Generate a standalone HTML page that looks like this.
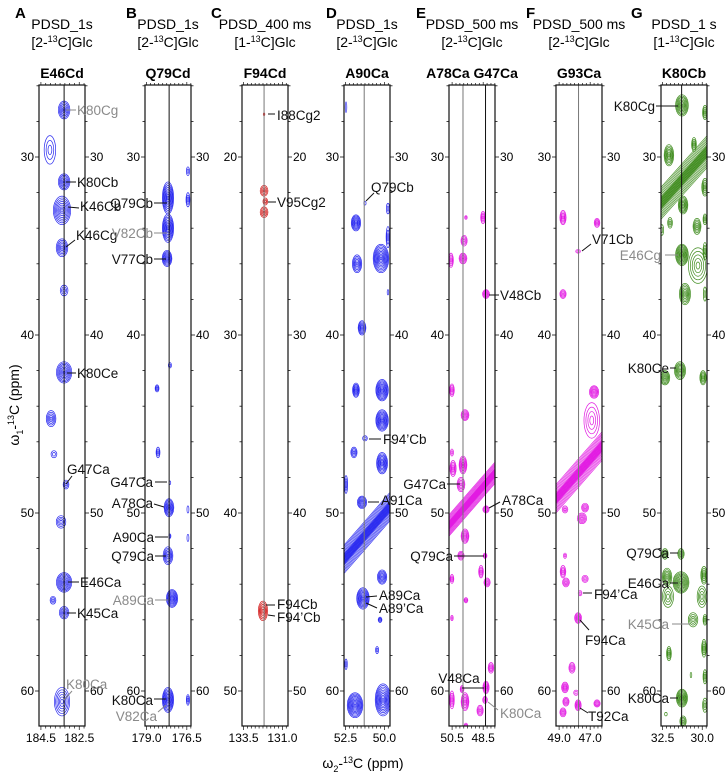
<!DOCTYPE html>
<html><head><meta charset="utf-8"><style>
html,body{margin:0;padding:0;background:#fff;}
svg{display:block;font-family:"Liberation Sans",Arial,sans-serif;}
</style></head><body>
<svg id="fig" width="726" height="778" viewBox="0 0 726 778"></svg>
<script>
// ---------- data ----------
const panelIds = ['A','B','C','D','E','F','G'];
const panelExp = ['PDSD_1s','PDSD_1s','PDSD_400 ms','PDSD_1s','PDSD_500 ms','PDSD_500 ms','PDSD_1 s'];
const panelLabel = ['2','2','1','2','2','2','1'];
const panelStrip = ['E46Cd','Q79Cd','F94Cd','A90Ca','A78Ca G47Ca','G93Ca','K80Cb'];
const xDomainLeft = [184.6,179.1,133.6,52.6,50.7,49.2,32.6];
const xDomainRight = [182.2,176.24,130.64,49.64,47.74,46.24,29.7];
const yRef = [30,30,20,30,30,30,30];
const yTickA = ['30','40','50','60'];
const yTickC = ['20','30','40','50'];
const xTickLabels = [['184.5','182.5'],['179.0','176.5'],['133.5','131.0'],['52.5','50.0'],['50.5','48.5'],['49.0','47.0'],['32.5','30.0']];
const stripLines = [[183.29],[177.6],[132.18],[51.3],[49.8,48.35],[47.75],[31.3]];
const diagonalHalfWidth = [0,0,0,0.8,0.6,0.8,0.9];
// peaks: [w2 ppm, w1 ppm, x-halfwidth ppm, y-halfwidth ppm, contour levels]
const peaksA = [[183.29,27.36,.3,.5,6],[184.03,29.6,.3,.8,3],[183.29,31.4,.3,.45,6],[183.40,33.0,.45,.8,8],[183.40,35.1,.3,.5,6],[183.29,37.5,.2,.3,3],[183.29,42.1,.4,.6,8],[183.97,44.7,.25,.45,5],[183.82,46.7,.15,.2,2],[183.19,48.4,.15,.25,3],[183.45,50.5,.25,.35,4],[183.29,53.9,.4,.55,8],[183.87,54.9,.15,.22,3],[183.29,55.6,.25,.35,5],[183.40,60.6,.4,.8,6]];
const peaksB = [[177.67,32.3,.35,.9,9],[177.67,34.0,.35,.8,9],[177.73,35.7,.3,.45,7],[176.43,30.8,.1,.25,2],[176.43,32.4,.12,.4,3],[177.55,41.7,.1,.15,2],[178.35,43.0,.12,.2,3],[178.29,46.6,.12,.3,3],[177.55,48.3,.05,.1,1],[177.61,49.7,.3,.5,7],[177.55,51.3,.06,.12,2],[177.67,52.4,.3,.5,6],[177.42,54.8,.35,.5,8],[177.67,60.5,.35,.7,9],[176.43,49.8,.06,.2,1],[176.43,51.4,.06,.2,1],[176.43,60.5,.1,.3,3]];
const peaksC = [[132.18,17.6,.05,.08,1],[132.18,21.9,.25,.3,4],[132.1,22.5,.15,.2,3],[132.18,23.1,.25,.3,4],[132.25,45.5,.3,.55,6]];
const peaksD = [[52.47,27.2,.05,.3,1],[51.25,32.6,.07,.1,1],[51.83,33.7,.3,.45,7],[49.77,32.9,.1,.3,2],[49.77,34.5,.12,.6,3],[50.22,35.7,.5,.8,10],[51.76,36.0,.3,.5,6],[49.77,37.6,.05,.15,1],[51.44,39.6,.25,.4,6],[51.83,43.1,.22,.4,6],[50.15,43.1,.4,.6,9],[50.15,44.8,.4,.6,9],[51.25,45.8,.15,.15,2],[51.96,46.6,.2,.3,4],[50.15,47.2,.35,.6,8],[52.47,48.4,.1,.5,3],[51.44,49.4,.3,.35,6],[50.15,53.6,.3,.4,6],[51.38,54.8,.4,.6,9],[50.28,56.0,.12,.15,3],[50.47,57.7,.1,.2,2],[52.47,58.5,.08,.3,2],[51.89,60.8,.5,.7,10],[50.09,60.5,.5,.9,10]];
const peaksE = [[49.61,33.4,.08,.1,2],[48.51,33.4,.15,.35,4],[49.73,34.7,.2,.3,4],[49.80,35.7,.25,.3,5],[50.57,35.8,.15,.4,4],[48.32,37.7,.22,.25,5],[50.51,43.1,.15,.35,4],[49.67,44.5,.25,.3,5],[50.51,46.6,.1,.2,2],[50.44,47.5,.2,.45,5],[49.80,47.3,.25,.5,6],[49.93,48.4,.25,.4,5],[48.32,49.8,.2,.2,4],[49.67,51.3,.25,.4,6],[49.93,52.4,.2,.25,4],[48.38,52.4,.12,.15,3],[48.64,53.3,.15,.35,4],[50.51,53.7,.12,.25,3],[48.25,53.9,.2,.25,4],[49.61,54.9,.12,.15,3],[50.51,55.9,.08,.15,2],[48.0,58.7,.18,.3,4],[48.32,59.8,.2,.35,5],[49.86,59.9,.12,.2,3],[50.51,60.5,.15,.5,4],[49.67,60.6,.25,.5,6],[48.38,60.5,.15,.2,3],[48.70,61.1,.2,.3,4],[49.61,62.0,.12,.2,3]];
const peaksF = [[48.75,33.4,.2,.4,5],[46.56,33.7,.18,.25,4],[47.78,35.3,.15,.1,2],[48.75,37.7,.2,.25,4],[46.75,43.2,.3,.35,6],[46.9,44.8,.5,1.0,4],[48.62,49.8,.18,.2,3],[47.33,49.7,.22,.25,4],[47.53,50.3,.3,.3,5],[48.62,52.4,.1,.15,2],[48.75,53.3,.18,.35,4],[47.33,53.7,.2,.2,3],[48.56,53.9,.22,.25,4],[47.65,54.5,.12,.15,2],[47.78,55.9,.22,.3,5],[48.17,58.7,.2,.3,4],[48.62,59.8,.22,.3,5],[47.91,60.1,.15,.15,2],[48.56,60.6,.2,.25,4],[48.75,61.2,.2,.25,4],[47.78,60.8,.2,.3,5],[46.56,60.7,.2,.2,4]];
const peaksG = [[31.28,27.1,.4,.6,8],[29.83,27.5,.15,.4,4],[30.52,29.3,.15,.4,4],[32.10,29.9,.3,.6,7],[29.83,31.7,.2,.5,5],[31.21,32.7,.3,.5,7],[32.03,33.7,.15,.3,3],[30.33,33.9,.25,.45,5],[29.83,33.5,.12,.3,3],[32.54,34.1,.1,.3,2],[31.28,35.5,.4,.6,9],[30.27,36.1,.6,1.0,5],[29.83,35.3,.12,.5,3],[31.09,37.7,.35,.6,7],[29.83,37.7,.1,.4,2],[31.40,42.0,.35,.5,7],[32.35,42.4,.3,.4,6],[29.95,42.4,.2,.4,5],[31.34,52.3,.2,.3,4],[32.35,52.3,.2,.3,4],[31.34,53.9,.5,.6,9],[32.22,53.6,.3,.5,6],[29.89,53.5,.2,.5,5],[32.16,54.7,.35,.6,4],[30.02,54.7,.3,.6,4],[30.58,56.0,.3,.4,4],[29.83,56.0,.12,.3,3],[29.89,57.6,.15,.5,4],[32.10,57.9,.15,.4,4],[30.71,59.1,.05,.15,1],[29.83,59.2,.12,.4,3],[31.28,60.4,.35,.5,8],[29.83,60.8,.15,.4,3],[32.29,61.3,.08,.1,1],[31.21,61.7,.2,.3,4]];
const allPeaks = [peaksA,peaksB,peaksC,peaksD,peaksE,peaksF,peaksG];
// assignment labels: [text, gray, x, y, anchor, leader x1,y1,x2,y2]
const assignLabels = [
 ['K80Cg',1,77,110,'start',66,110,76,110],['K80Cb',0,77,182,'start',66,182,76,182],['K46Cb',0,80,206,'start',68,207,79,208],
 ['K46Cg',0,76,235,'start',66,247,75,240],['K80Ce',0,77,373,'start',67,373,76,373],['G47Ca',0,67,469,'start',66,484,72,476],
 ['E46Ca',0,80,582,'start',68,582,79,582],['K45Ca',0,77,613,'start',67,613,76,613],['K80Ca',1,66,684,'start',64,700,72,691],
 ['Q79Cb',0,153,203,'end',154,203,167,203],['V82Cb',1,153,233,'end',154,233,167,233],['V77Cb',0,153,259,'end',154,259,166,259],
 ['G47Ca',0,153,482,'end',155,482,167,482],['A78Ca',0,153,503,'end',154,504,164,507],['A90Ca',0,154,537,'end',155,537,168,537],
 ['Q79Ca',0,154,556,'end',155,556,166,556],['A89Ca',1,154,600,'end',155,600,168,600],['K80Ca',0,153,700,'end',154,699,166,699],
 ['V82Ca',1,157,716,'end',158,712,166,705],
 ['I88Cg2',0,277,115,'start',268,114,275,114],['V95Cg2',0,277,202,'start',268,202,276,202],
 ['F94Cb',0,277,604,'start',266,605,275,605],['F94\u2019Cb',0,277,617,'start',268,615,275,616],
 ['Q79Cb',0,371,187,'start',366,201,374,193],['F94\u2019Cb',0,383,439,'start',369,439,381,439],['A91Ca',0,381,500,'start',368,502,379,502],
 ['A89Ca',0,379,595,'start',366,597,377,596],['A89\u2019Ca',0,379,608,'start',366,603,377,608],
 ['V48Cb',0,500,295,'start',489,295,499,295],['A78Ca',0,502,500,'start',489,508,500,502],['G47Ca',0,446,484,'end',447,484,460,484],
 ['Q79Ca',0,453,556,'end',454,556,484,556],['V48Ca',0,459,678,'middle',462,688,484,688],['K80Ca',1,500,713,'start',488,702,498,710],
 ['V71Cb',0,592,239,'start',582,251,591,244],['F94\u2019Ca',0,594,594,'start',583,593,592,593],['F94Ca',0,585,640,'start',580,620,589,630],
 ['T92Ca',0,588,716,'start',580,708,588,713],
 ['K80Cg',0,655,106,'end',656,106,678,106],['E46Cg',1,661,255,'end',665,255,678,255],['K80Ce',0,669,368,'end',670,368,676,368],
 ['Q79Ca',0,669,553,'end',670,553,678,553],['E46Ca',0,669,583,'end',670,583,678,583],['K45Ca',1,669,624,'end',672,624,690,624],
 ['K80Ca',0,669,698,'end',670,698,678,698]
];
// ---------- layout ----------
const NS='http://www.w3.org/2000/svg';
const svg=document.getElementById('fig');
const frameLeft=[39,145,242,344,449,556,661];
const FW=46, TOP=85, BOT=726, PXPPM=17.8, Y0PX=157;
const colors=['#2a2af0','#2a2af0','#d42020','#2a2af0','#e21ae2','#e21ae2','#3f8c1e'];
const headerLetterX=[15,126,211,326,416,526,631];
function el(tag,attrs,parent){const e=document.createElementNS(NS,tag);for(const k in attrs)e.setAttribute(k,attrs[k]);(parent||svg).appendChild(e);return e;}
function xs(i,v){return frameLeft[i]+(xDomainLeft[i]-v)/(xDomainLeft[i]-xDomainRight[i])*FW;}
function ys(i,v){return Y0PX+(v-yRef[i])*PXPPM;}
function txt(s,attrs,parent){const t=el('text',attrs,parent);t.textContent=s;return t;}

const defs=el('defs',{});
panelIds.forEach((id,i)=>{
  const cp=el('clipPath',{id:'clip'+i},defs);
  el('rect',{x:frameLeft[i],y:TOP,width:FW,height:BOT-TOP},cp);
  const g=el('g',{});
  
  
  const cx=frameLeft[i]+FW/2;
  const L=txt(id,{x:headerLetterX[i],y:18,'font-size':15,'font-weight':'bold'},g);
  
  
  const e1=txt(panelExp[i],{x:cx,y:29,'font-size':14,'text-anchor':'middle'},g);
  
  
  const e2=el('text',{x:cx,y:47,'font-size':14,'text-anchor':'middle'},g);
  
  
  const a=document.createElementNS(NS,'tspan');a.textContent='['+panelLabel[i]+'-';e2.appendChild(a);
  const b=document.createElementNS(NS,'tspan');b.setAttribute('font-size','9');b.setAttribute('dy','-5');b.textContent='13';e2.appendChild(b);
  const c=document.createElementNS(NS,'tspan');c.setAttribute('dy','5');c.textContent='C]Glc';e2.appendChild(c);
  const st=txt(panelStrip[i],{x:cx,y:78,'font-size':14,'font-weight':'bold','text-anchor':'middle'},g);
  
  

  const body=el('g',{'clip-path':'url(#clip'+i+')'},g);
  
  
  // diagonal ridge
  const hw=diagonalHalfWidth[i];
  if(hw>0){
    const n=9;
    for(let k=-n;k<=n;k++){
      const d=hw*k/n;
      const ln=el('line',{x1:xs(i,xDomainLeft[i]),y1:ys(i,xDomainLeft[i]+d),x2:xs(i,xDomainRight[i]),y2:ys(i,xDomainRight[i]+d),stroke:colors[i],'stroke-width':Math.abs(k)<4?1.2:0.6},body);
      
      
    }
  }
  // peaks
  allPeaks[i].forEach(p=>{
    const px=xs(i,p[0]), py=ys(i,p[1]);
    const rx=Math.abs(xs(i,p[0]-p[2])-px), ry=p[3]*PXPPM;
    const lv=p[4];
    const pg=el('g',{},body);
    
    
    for(let k=lv;k>=1;k--){
      el('ellipse',{cx:px,cy:py,rx:Math.max(0.6,rx*k/lv),ry:Math.max(0.6,ry*k/lv),fill:'none',stroke:colors[i],'stroke-width':0.7},pg);
    }
  });
  // strip reference lines
  stripLines[i].forEach((v,j)=>{
    const ln=el('line',{x1:xs(i,v),x2:xs(i,v),y1:TOP,y2:BOT,stroke:(i===2||i===3||i===5||(i===4&&j===0))?'#777':'#111','stroke-width':1},g);
    
    
  });
  // frame
  const fr=el('rect',{x:frameLeft[i],y:TOP,width:FW,height:BOT-TOP,fill:'none',stroke:'#111','stroke-width':1.2},g);
  
  
  // y ticks
  const labs=(i===2)?yTickC:yTickA;
  for(let v=yRef[i]-4;v<=yRef[i]+32;v+=2){
    const y=ys(i,v); if(y<TOP||y>BOT) continue;
    const major=labs.indexOf(String(v))>=0;
    const len=major?4:2.5;
    el('line',{x1:frameLeft[i]-len,x2:frameLeft[i],y1:y,y2:y,stroke:'#111','stroke-width':0.8},g);
    el('line',{x1:frameLeft[i]+FW,x2:frameLeft[i]+FW+len,y1:y,y2:y,stroke:'#111','stroke-width':0.8},g);
  }
  labs.forEach(s=>{
    const y=ys(i,+s);
    const t1=txt(s,{x:frameLeft[i]-5,y:y+4,'font-size':12,'text-anchor':'end'},g);
    
    
    const t2=txt(s,{x:frameLeft[i]+FW+5,y:y+4,'font-size':12},g);
    
    
  });
  // x ticks (0.25 ppm)
  const v0=+xTickLabels[i][0], v1=+xTickLabels[i][1];
  for(let v=v0+0.5;v>=xDomainRight[i];v-=0.25){
    const x=xs(i,v); if(x<frameLeft[i]||x>frameLeft[i]+FW) continue;
    const major=Math.abs(v-v0)<1e-6||Math.abs(v-v1)<1e-6;
    el('line',{x1:x,x2:x,y1:BOT,y2:BOT+(major?4:2.5),stroke:'#111','stroke-width':0.7},g);
    el('line',{x1:x,x2:x,y1:TOP,y2:TOP-(major?3:2),stroke:'#111','stroke-width':0.7},g);
  }
  xTickLabels[i].forEach(s=>{
    const t=txt(s,{x:xs(i,+s),y:742,'font-size':12,'text-anchor':'middle'},g);
    
    
  });
});
// assignment labels
assignLabels.forEach(a=>{
  const g=el('g',{});
  
  
  const col=a[1]?'#8a8a8a':'#111';
  el('line',{x1:a[5],y1:a[6],x2:a[7],y2:a[8],stroke:col,'stroke-width':1},g);
  txt(a[0],{x:a[2],y:a[3]+5,'font-size':13.5,'text-anchor':a[4],fill:col},g);
});
// axis titles
const yt=el('text',{x:0,y:0,'font-size':14,'text-anchor':'middle',transform:'translate(19,405) rotate(-90)'});


yt.innerHTML='ω<tspan font-size="9" dy="4">1</tspan><tspan dy="-4">-</tspan><tspan font-size="9" dy="-5">13</tspan><tspan dy="5">C (ppm)</tspan>';
const xt=el('text',{x:363,y:768,'font-size':14,'text-anchor':'middle'});


xt.innerHTML='ω<tspan font-size="9" dy="4">2</tspan><tspan dy="-4">-</tspan><tspan font-size="9" dy="-5">13</tspan><tspan dy="5">C (ppm)</tspan>';
</script>
</body></html>
